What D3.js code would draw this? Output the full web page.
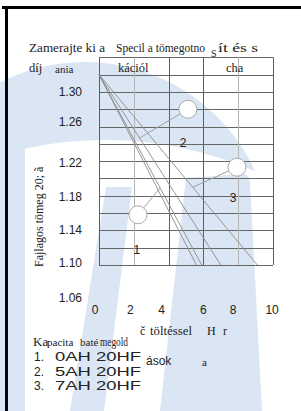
<!DOCTYPE html>
<html>
<head>
<meta charset="utf-8">
<script src="https://cdn.jsdelivr.net/npm/d3@7"></script>
<style>
  body { margin: 0; background: #fff; }
  .serif { font-family: "Liberation Serif", "DejaVu Serif", serif; }
  .sans { font-family: "Liberation Sans", Arial, sans-serif; }
</style>
</head>
<body>
<div id="chart"></div>
<script>
/*
 * Adatok
 */
// a negy gorbe: kezdopont (0, 1.32), vegpont 1.10-nel
var gorbeVeg = [5.6, 5.9, 7.0, 9.1];
var gorbeStart = [0, 1.32];
var gorbeAlj = 1.10;

// karikak (kapacitas jeloles) es a vonalhoz vezeto csik
var karikaX = [2.24, 5.11, 7.93];
var karikaY = [1.158, 1.280, 1.213];
var csikX = [3.51, 2.36, 5.40];
var csikY = [1.189, 1.247, 1.190];

// gorbe feliratok
var cimkek = ["1", "2", "3"];
var cimkeX = [2.18, 4.83, 7.70];
var cimkeY = [1.117, 1.241, 1.177];

// tengely feliratok
var yTicks = ["1.30", "1.26", "1.22", "1.18", "1.14", "1.10", "1.06"];
var yTickPos = [1.30, 1.265, 1.218, 1.179, 1.14, 1.102, 1.062];
var xTicks = ["0", "2", "4", "6", "8", "10"];
var xTickPos = [-0.22, 1.8, 3.6, 6.0, 7.7, 9.95];

// racs
var racsX = [0, 2, 4, 6, 8, 10];
var racsXSzin = ["#5e5e5e", "#b4b4b4", "#5e5e5e", "#5e5e5e", "#b4b4b4", "#5e5e5e"];
var racsY = d3.range(1.10, 1.3401, 0.02);

// jelmagyarazat
var jelek = ["1.", "2.", "3."];
var jelSzoveg = ["0AH 20HF", "5AH 20HF", "7AH 20HF"];

var svgWidth = 301;
var svgHeight = 411;
var kek = "#dbe6f4";

var svg = d3.select("#chart")
  .append("svg")
  .attr("width", svgWidth)
  .attr("height", svgHeight);

var x = d3.scaleLinear().domain([0, 10]).range([99, 273]);
var y = d3.scaleLinear().domain([1.10, 1.34]).range([265, 57.3]);

/*
 * Vizjel a hatterben
 */
var vizjel = svg.append("g");
// felso iv: kek korlap, aljat egy nagy feher kor takarja
vizjel.append("circle").attr("cx", 85).attr("cy", 249).attr("r", 187).attr("fill", kek);
vizjel.append("circle").attr("cx", 105).attr("cy", 516).attr("r", 376).attr("fill", "#fff");
vizjel.append("rect").attr("x", 0).attr("y", 140).attr("width", 25).attr("height", 280).attr("fill", kek);
vizjel.append("path").attr("fill", kek)
  .attr("d", "M106,187 L132,187 L104,411 L70,411 Z");
vizjel.append("path").attr("fill", kek)
  .attr("d", "M186,178 L244,174 Q250,176 250,182 L262,411 L160,411 Z");

/*
 * Keret
 */
svg.append("rect").attr("x", 2).attr("y", 6).attr("width", 299).attr("height", 3).attr("fill", "#000");
svg.append("rect").attr("x", 5).attr("y", 6).attr("width", 3).attr("height", 405).attr("fill", "#000");

/*
 * Racs
 */
var racs = svg.append("g");
racs.selectAll("line.h")
  .data(racsY)
  .enter().append("line")
  .attr("x1", x(0)).attr("x2", x(10))
  .attr("y1", function(d){ return Math.round(y(d)) + 0.5; })
  .attr("y2", function(d){ return Math.round(y(d)) + 0.5; })
  .attr("stroke", "#666").attr("stroke-width", 1);
racs.selectAll("line.v")
  .data(racsX)
  .enter().append("line")
  .attr("x1", function(d){ return Math.round(x(d)) + 0.5; })
  .attr("x2", function(d){ return Math.round(x(d)) + 0.5; })
  .attr("y1", y(1.34)).attr("y2", y(1.10))
  .attr("stroke", function(d,i){ return racsXSzin[i]; })
  .attr("stroke-width", 1);

/*
 * Gorbek
 */
svg.selectAll("line.gorbe")
  .data(gorbeVeg)
  .enter().append("line")
  .attr("x1", x(gorbeStart[0])).attr("y1", y(gorbeStart[1]))
  .attr("x2", function(d){ return x(d); }).attr("y2", y(gorbeAlj))
  .attr("stroke", "#8a8a8a").attr("stroke-width", 0.9);

// csikok a karikaktol
var r = 9;
karikaX.forEach(function(kx, i) {
  var cx = x(kx), cy = y(karikaY[i]);
  var tx = x(csikX[i]), ty = y(csikY[i]);
  var hossz = Math.sqrt((tx-cx)*(tx-cx) + (ty-cy)*(ty-cy));
  svg.append("line")
    .attr("x1", cx + (tx-cx)/hossz*r).attr("y1", cy + (ty-cy)/hossz*r)
    .attr("x2", tx).attr("y2", ty)
    .attr("stroke", "#a0a0a0").attr("stroke-width", 1);
  svg.append("circle")
    .attr("cx", cx).attr("cy", cy).attr("r", r)
    .attr("fill", "#fff").attr("stroke", "#aaa").attr("stroke-width", 1);
});

svg.selectAll("text.cimke")
  .data(cimkek)
  .enter().append("text")
  .attr("class", "sans")
  .attr("x", function(d,i){ return x(cimkeX[i]); })
  .attr("y", function(d,i){ return y(cimkeY[i]) + 4; })
  .attr("text-anchor", "middle")
  .attr("font-size", 12)
  .attr("fill", "#222")
  .text(function(d){ return d; });

/*
 * Tengelyek feliratai
 */
svg.selectAll("text.ytick")
  .data(yTicks)
  .enter().append("text")
  .attr("class", "sans")
  .attr("x", 82)
  .attr("y", function(d,i){ return y(yTickPos[i]) + 4; })
  .attr("text-anchor", "end")
  .attr("font-size", 12)
  .attr("fill", "#222")
  .text(function(d){ return d; });

svg.selectAll("text.xtick")
  .data(xTicks)
  .enter().append("text")
  .attr("class", "sans")
  .attr("x", function(d,i){ return x(xTickPos[i]); })
  .attr("y", 314)
  .attr("text-anchor", "middle")
  .attr("font-size", 12)
  .attr("fill", "#222")
  .text(function(d){ return d; });

// szoveg darabok (hossz: kinyujtva a megadott szelessegre)
function szoveg(t, tx, ty, meret, osztaly, hossz) {
  var el = svg.append("text")
    .attr("class", osztaly || "serif")
    .attr("x", tx).attr("y", ty)
    .attr("font-size", meret)
    .attr("fill", "#222")
    .text(t);
  if (hossz) {
    el.attr("textLength", hossz).attr("lengthAdjust", "spacingAndGlyphs");
  }
}

szoveg("Zamerajte ki a", 29, 52, 12.5, "serif", 76);
szoveg("Specil a tömegotno", 116, 52, 12.5, "serif", 89);
szoveg("S", 211, 57, 10);
szoveg("ít és s", 218, 52, 12.5, "serif", 40);
szoveg("díj", 29, 72, 12.5);
szoveg("ania", 55, 73, 11);
szoveg("kációl", 118, 72, 12.5);
szoveg("cha", 226, 72, 12.5);

svg.append("text")
  .attr("class", "serif")
  .attr("transform", "translate(43,267) rotate(-90)")
  .attr("font-size", 12)
  .attr("fill", "#222")
  .text("Fajlagos tömeg 20; ã");

szoveg("č", 140, 335, 12);
szoveg("töltéssel", 150, 335, 12, "serif", 42);
szoveg("H", 207, 335, 12);
szoveg("r", 223, 335, 12);

szoveg("Ka", 33, 346, 13);
szoveg("pacita", 47, 346, 11);
szoveg("baté", 80, 346, 11);
szoveg("megold", 100, 346, 12, "serif", 28);

jelek.forEach(function(j, i) {
  szoveg(j, 34, 361 + i*14.5, 12, "sans");
  szoveg(jelSzoveg[i], 55, 361 + i*14.5, 12.5, "sans", 86);
});
szoveg("ások", 146, 365, 12, "sans");
szoveg("a", 202, 366, 11);
</script>
</body>
</html>
